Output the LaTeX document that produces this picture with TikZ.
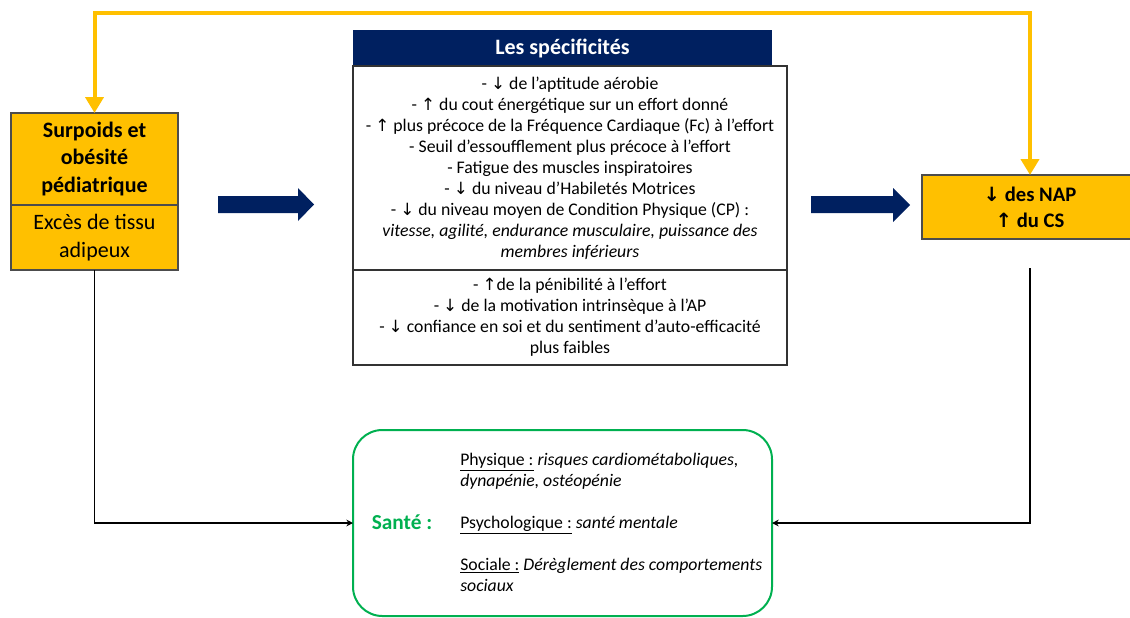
\documentclass[tikz,border=0pt]{standalone}
\usepackage{fontspec}
\setmainfont{Carlito}
\newfontfamily\arrowfont{DejaVu Sans}
\usetikzlibrary{positioning,arrows.meta}
\definecolor{ambre}{HTML}{FFC000}
\definecolor{marine}{HTML}{002060}
\definecolor{vert}{HTML}{00B050}
\newcommand{\pxu}{0.75pt}
\newcommand{\fdown}{\scalebox{0.95}{\arrowfont ↓}}
\newcommand{\fup}{\scalebox{0.95}{\arrowfont ↑}}
\begin{document}
\begin{tikzpicture}[x=\pxu,y=-\pxu,
    ybox/.style={draw=black!70,line width=0.8pt,fill=ambre,align=center,
      inner sep=0pt,outer sep=0pt,minimum width=167*\pxu,
      font=\fontsize{16.5}{20.5}\selectfont},
    wbox/.style={draw=black!80,line width=0.8pt,fill=white,align=center,
      inner sep=0pt,outer sep=0pt,minimum width=434*\pxu,
      font=\fontsize{13.3}{15.75}\selectfont},
    yarrow/.style={draw=ambre,line width=3pt,
      {Triangle[width=13.5pt,length=12pt]}-{Triangle[width=13.5pt,length=12pt]}},
    karrow/.style={draw=black,line width=1.2pt,-{Stealth[length=5pt,width=5pt]}}]
  \useasboundingbox (0,0) rectangle (1130,617);
  % left boxes
  \node[ybox,minimum height=92*\pxu,font=\bfseries\fontsize{16.5}{20.5}\selectfont]
    (obes) at (94.5,159) {Surpoids et\\obésité\\pédiatrique};
  \node[ybox,minimum height=65*\pxu,below=0pt of obes] (tissu) {Excès de tissu\\adipeux};
  % right box
  \node[ybox,minimum width=216*\pxu,minimum height=64*\pxu,
    font=\bfseries\fontsize{15.5}{19.5}\selectfont]
    (nap) at (1030,207) {\fdown\ des NAP\\\fup\ du CS};
  % centre
  \node[fill=marine,text=white,font=\bfseries\fontsize{16.5}{18}\selectfont,
    minimum width=419*\pxu,minimum height=36*\pxu,inner sep=0pt,outer sep=0pt]
    (titre) at (562.5,48) {Les spécificités};
  \node[wbox,minimum height=204*\pxu] (spec) at (570,168) {%
    - \fdown\ de l’aptitude aérobie\\
    - \fup\ du cout énergétique sur un effort donné\\
    - \fup\ plus précoce de la Fréquence Cardiaque (Fc) à l’effort\\
    - Seuil d’essoufflement plus précoce à l’effort\\
    - Fatigue des muscles inspiratoires\\
    - \fdown\ du niveau d’Habiletés Motrices\\
    - \fdown\ du niveau moyen de Condition Physique (CP) :\\
    \textit{vitesse, agilité, endurance musculaire, puissance des}\\
    \textit{membres inférieurs}};
  \node[wbox,minimum height=95*\pxu,below=0pt of spec] (psy) {%
    - \fup de la pénibilité à l’effort\\
    - \fdown\ de la motivation intrinsèque à l’AP\\
    - \fdown\ confiance en soi et du sentiment d’auto-efficacité\\
    plus faibles};
  % sante
  \node[draw=vert,line width=1.5pt,rounded corners=22pt,minimum width=419*\pxu,
    minimum height=186*\pxu,outer sep=0pt] (sante) at (562.5,523) {};
  \node[text=vert,font=\bfseries\fontsize{16}{18}\selectfont] (santelbl) at (402,522) {Santé :};
  \node[anchor=west,align=left,inner sep=0pt,font=\fontsize{13.3}{15.75}\selectfont]
    (santetxt) at (460,522.5) {%
    \underline{Physique :} \textit{risques cardiométaboliques,}\\
    \textit{dynapénie, ostéopénie}\\[15.75pt]
    \underline{Psychologique :} \textit{santé mentale}\\[15.75pt]
    \underline{Sociale :} \textit{Dérèglement des comportements}\\
    \textit{sociaux}};
  % block arrows
  \fill[marine] (218,196) -- (298,196) -- (298,188) -- (314,204.5) -- (298,221)
    -- (298,213) -- (218,213) -- cycle;
  \fill[marine] (811,196) -- (893,196) -- (893,188) -- (910,205) -- (893,222)
    -- (893,213) -- (811,213) -- cycle;
  % connectors
  \draw[yarrow] (obes.north) -- ++(0,-100) -| (nap.north);
  \draw[karrow] (tissu.south) |- (sante.west);
  \coordinate (napfoot) at (1030,268);
  \draw[karrow] (napfoot) |- (sante.east);
\end{tikzpicture}
\end{document}
